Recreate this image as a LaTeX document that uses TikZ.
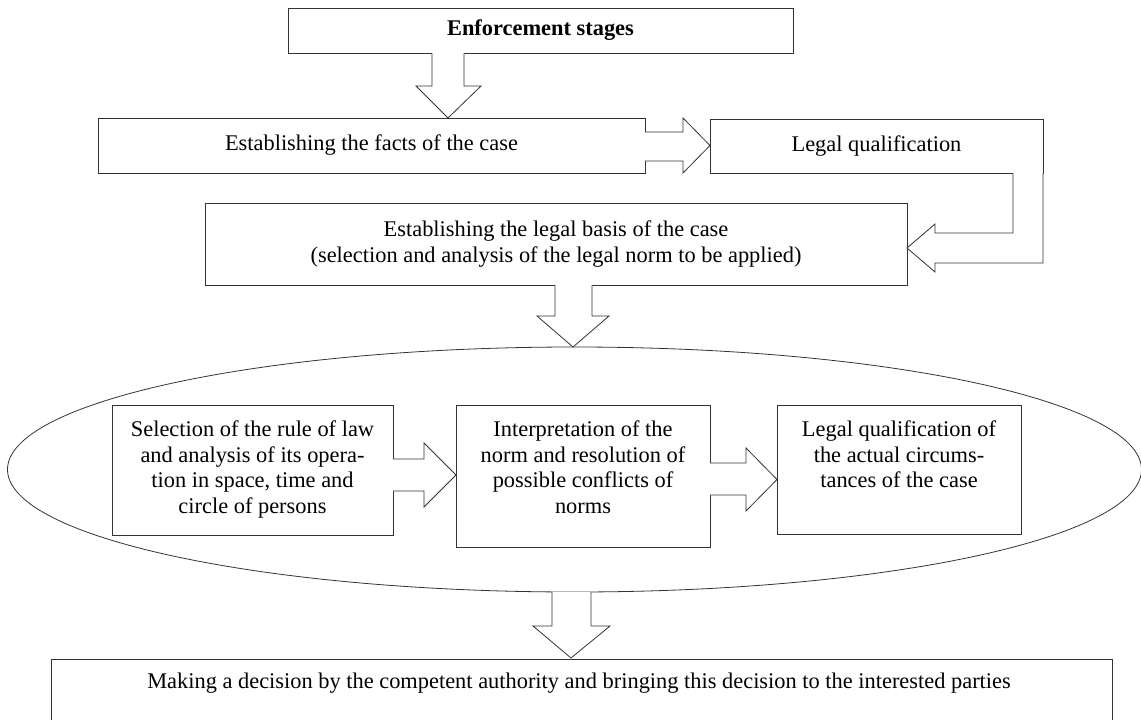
\documentclass[tikz,border=0pt]{standalone}
\usepackage{fontspec}
\setmainfont{Liberation Serif}
\usetikzlibrary{shapes.geometric}
\begin{document}
\begin{tikzpicture}[x=1pt,y=-1pt,
  box/.style={draw=black!80, line width=0.8pt, rectangle, inner sep=0pt},
  txt/.style={font=\fontsize{22.4}{25.5}\selectfont, align=center, inner sep=0pt},
  blk/.style={draw=black!80, line width=0.8pt, fill=white, line join=miter}]
\useasboundingbox (0,0) rectangle (1141,720);
% top
\node[box, txt, minimum width=505, minimum height=45] (top) at (540.5,30.5) {\bfseries Enforcement stages};
\node[box, txt, minimum width=547, minimum height=55] (facts) at (371.5,145.5) {Establishing the facts of the case};
\node[box, txt, minimum width=333, minimum height=54] (lq) at (876.5,146) {Legal qualification};
\node[box, txt, minimum width=702, minimum height=82] (basis) at (556,244) {Establishing the legal basis of the case\\(selection and analysis of the legal norm to be applied)};
% ellipse
\node[ellipse, draw=black!80, line width=0.8pt, minimum width=1134, minimum height=245, inner sep=0pt] (ell) at (574.5,469.5) {};
% inner boxes
\node[box, minimum width=281, minimum height=130] (b1) at (252.5,470) {};
\node[box, minimum width=254, minimum height=142] (b2) at (583,476) {};
\node[box, minimum width=244, minimum height=129] (b3) at (899,469.5) {};
\node[txt, anchor=north] (t1) at (252.5,421) {Selection of the rule of law\\and analysis of its opera-\\tion in space, time and\\circle of persons};
\node[txt, anchor=north] (t2) at (583,421) {Interpretation of the\\norm and resolution of\\possible conflicts of\\norms};
\node[txt, anchor=north] (t3) at (899,421) {Legal qualification of\\the actual circums-\\tances of the case};
% bottom box
\begin{scope}
\clip (0,0) rectangle (1141,720);
\node[box, minimum width=1061, minimum height=80] (dec) at (581.5,699) {};
\end{scope}
\node[txt] (tdec) at (579,683) {Making a decision by the competent authority and bringing this decision to the interested parties};
% block arrows
\draw[blk] (432,53) -- (432,86) -- (416,86) -- (448,118) -- (481,86) -- (464,86) -- (464,53);
\draw[blk] (645,132) -- (683,132) -- (683,118) -- (710,145.5) -- (683,173) -- (683,161) -- (645,161);
\draw[blk] (1013,173) -- (1013,233) -- (935,233) -- (935,224) -- (907,248) -- (935,272) -- (935,263) -- (1043,263) -- (1043,173);
\draw[blk] (555,285) -- (555,316) -- (537,316) -- (573,347) -- (609,316) -- (592,316) -- (592,285);
\draw[blk] (393,459) -- (424,459) -- (424,443) -- (456,475) -- (424,507) -- (424,491) -- (393,491);
\draw[blk] (710,463) -- (746,463) -- (746,448) -- (777,479.5) -- (746,511) -- (746,495) -- (710,495);
\draw[blk] (552,592) -- (552,626) -- (533,626) -- (571,658) -- (610,626) -- (591,626) -- (591,592);
\end{tikzpicture}
\end{document}
